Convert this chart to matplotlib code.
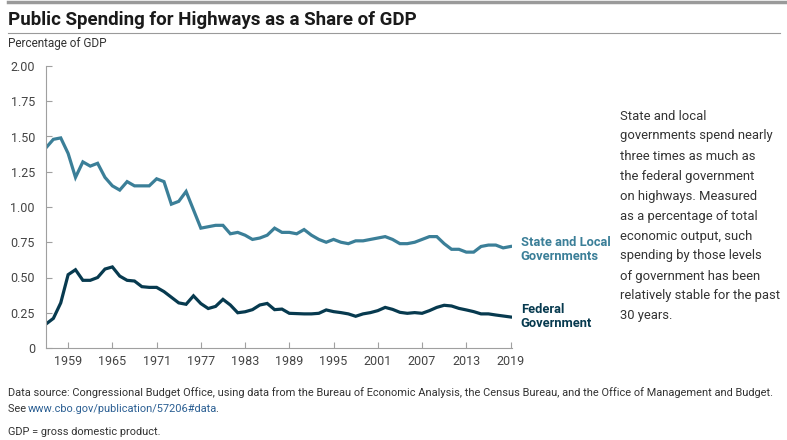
import numpy as np
import matplotlib
matplotlib.use('Agg')
import matplotlib.pyplot as plt
from matplotlib.lines import Line2D

plt.rcParams['font.family'] = ['Roboto', 'DejaVu Sans']

# data (percentage of GDP)
years = np.arange(1956, 2020)
state_local = [1.42, 1.48, 1.49, 1.38, 1.21, 1.32, 1.29, 1.31, 1.21, 1.15,
               1.12, 1.18, 1.15, 1.15, 1.15, 1.20, 1.18, 1.02, 1.04, 1.11,
               0.98, 0.85, 0.86, 0.87, 0.87, 0.81, 0.82, 0.80, 0.77, 0.78,
               0.80, 0.85, 0.82, 0.82, 0.81, 0.84, 0.80, 0.77, 0.75, 0.77,
               0.75, 0.74, 0.76, 0.76, 0.77, 0.78, 0.79, 0.77, 0.74, 0.74,
               0.75, 0.77, 0.79, 0.79, 0.74, 0.70, 0.70, 0.68, 0.68, 0.72,
               0.73, 0.73, 0.71, 0.72]
federal = [0.17, 0.21, 0.32, 0.52, 0.555, 0.48, 0.48, 0.50, 0.56, 0.575,
           0.51, 0.48, 0.475, 0.435, 0.43, 0.43, 0.40, 0.36, 0.32, 0.31,
           0.37, 0.315, 0.28, 0.295, 0.345, 0.305, 0.25, 0.257, 0.272, 0.305,
           0.316, 0.272, 0.276, 0.246, 0.244, 0.242, 0.242, 0.246, 0.27, 0.258,
           0.251, 0.242, 0.225, 0.242, 0.251, 0.265, 0.288, 0.274, 0.253, 0.246,
           0.251, 0.246, 0.265, 0.288, 0.303, 0.298, 0.281, 0.27, 0.258, 0.242,
           0.242, 0.234, 0.227, 0.22]
xticks = np.arange(1959, 2020, 6)
yticks = [0, 0.25, 0.5, 0.75, 1.0, 1.25, 1.5, 1.75, 2.0]
ytick_labels = ['0', '0.25', '0.50', '0.75', '1.00', '1.25', '1.50', '1.75', '2.00']

teal = '#3b7f98'
navy = '#073a4f'
txt = '#333333'

W, H = 787, 440
fig = plt.figure(figsize=(W / 100, H / 100), dpi=100)
ax = fig.add_axes([46 / W, 1 - 348 / H, 466 / W, 282 / H])

ax.plot(years, state_local, color=teal, linewidth=2.3, solid_joinstyle='miter')
ax.plot(years, federal, color=navy, linewidth=2.3, solid_joinstyle='miter')

ax.set_xlim(1956, 2019.2)
ax.set_ylim(0, 2.0)
ax.set_xticks(xticks)
ax.set_yticks(yticks)
ax.set_yticklabels(ytick_labels)
for s in ['top', 'right']:
    ax.spines[s].set_visible(False)
for s in ['left', 'bottom']:
    ax.spines[s].set_color('#a0a0a0')
    ax.spines[s].set_linewidth(0.8)
ax.tick_params(direction='in', length=4, width=0.8, color='#a0a0a0',
               labelsize=9, labelcolor='#444444')
ax.tick_params(axis='y', pad=8)
ax.tick_params(axis='x', pad=5)

# series labels
ax.text(2020.4, 0.70, 'State and Local\nGovernments', color=teal, fontsize=9.3,
        fontweight='bold', va='center', ha='left', linespacing=1.1, clip_on=False)
ax.text(2020.4, 0.225, 'Federal\nGovernment', color=navy, fontsize=9.3,
        fontweight='bold', va='center', ha='left', linespacing=1.1, clip_on=False)

# header
fig.add_artist(Line2D([8 / W, 1], [1 - 2 / H, 1 - 2 / H], color='#9a9a9a', linewidth=2.5))
fig.text(8 / W, 1 - 20 / H, 'Public Spending for Highways as a Share of GDP',
         fontsize=13.5, fontweight='bold', color='#1a1a1a', va='center', ha='left')
fig.add_artist(Line2D([8 / W, 780 / W], [1 - 33 / H, 1 - 33 / H], color='#9a9a9a', linewidth=0.8))
fig.text(8 / W, 1 - 44 / H, 'Percentage of GDP', fontsize=8.5, color=txt,
         va='center', ha='left')

# side note
note = ['State and local', 'governments spend nearly', 'three times as much as',
        'the federal government', 'on highways. Measured', 'as a percentage of total',
        'economic output, such', 'spending by those levels', 'of government has been',
        'relatively stable for the past', '30 years.']
for i, line in enumerate(note):
    fig.text(620 / W, 1 - (116 + 20 * i) / H, line, fontsize=9.4, color=txt,
             va='center', ha='left')

# footer
fs = 7.95
fig.text(8 / W, 1 - 393 / H, 'Data source: Congressional Budget Office, using data from the '
         'Bureau of Economic Analysis, the Census Bureau, and the Office of Management and Budget.',
         fontsize=fs, color=txt, va='center', ha='left')
renderer = fig.canvas.get_renderer()
x0 = 8
for part, col in [('See ', txt), ('www.cbo.gov/publication/57206#data', '#2b5f93'), ('.', txt)]:
    t = fig.text(x0 / W, 1 - 409 / H, part, fontsize=fs, color=col, va='center', ha='left')
    x0 = t.get_window_extent(renderer).x1 - 1.5
fig.text(8 / W, 1 - 432 / H, 'GDP = gross domestic product.', fontsize=fs, color=txt,
         va='center', ha='left')

fig.savefig('out.png', dpi=100)
